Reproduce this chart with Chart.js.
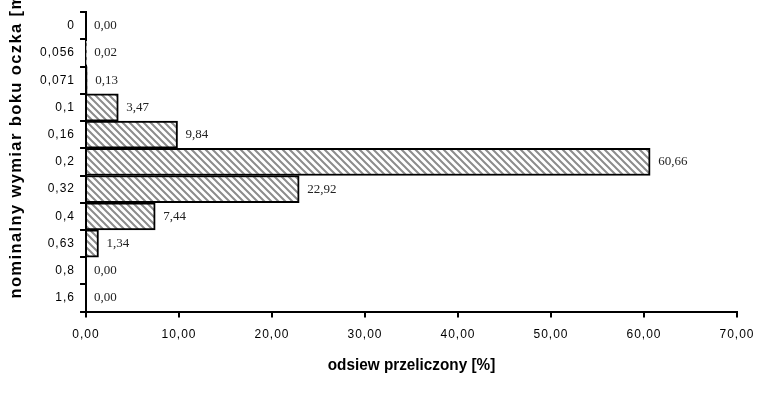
<!DOCTYPE html>
<html><head><meta charset="utf-8">
<script src="https://cdn.jsdelivr.net/npm/chart.js@4/dist/chart.umd.min.js"></script>
<style>html,body{margin:0;padding:0;background:#fff}#wrap{width:769px;height:400px}</style>
</head><body><div id="wrap"><canvas id="c" width="769" height="400"></canvas></div>
<script>
const categories = ['0','0,056','0,071','0,1','0,16','0,2','0,32','0,4','0,63','0,8','1,6'];
const values = [0.00, 0.02, 0.13, 3.47, 9.84, 60.66, 22.92, 7.44, 1.34, 0.00, 0.00];
const xTicks = [0,10,20,30,40,50,60,70];
const xTitle = 'odsiew przeliczony [%]';
const yTitle = 'nominalny wymiar boku oczka [mm]';

function hatch(){
  const s = 7, c = document.createElement('canvas');
  c.width = s; c.height = s;
  const g = c.getContext('2d');
  g.fillStyle = '#fff'; g.fillRect(0,0,s,s);
  g.strokeStyle = '#8c8c8c'; g.lineWidth = 2;
  g.beginPath();
  g.moveTo(-1,-1); g.lineTo(s+1,s+1);
  g.moveTo(-1-s,-1); g.lineTo(1,s+1);
  g.moveTo(s-1,-1); g.lineTo(2*s+1,s+1);
  g.stroke();
  return g.createPattern(c,'repeat');
}
const fmt = v => v.toFixed(2).replace('.', ',');

const spacing = {
  id:'spacing',
  beforeLayout(chart){ chart.ctx.letterSpacing = '1px'; },
  beforeDraw(chart){ chart.ctx.letterSpacing = '1px'; },
  afterDatasetsDraw(chart){
    const ctx = chart.ctx;
    const a = chart.chartArea;
    ctx.save();
    ctx.letterSpacing = '0px';
    const meta = chart.getDatasetMeta(0);
    ctx.font = '13px "Liberation Serif", serif';
    ctx.fillStyle = '#222';
    ctx.textAlign = 'left'; ctx.textBaseline = 'middle';
    meta.data.forEach((bar,i)=>{
      ctx.fillText(fmt(values[i]), bar.x + 8, bar.y);
    });
    ctx.restore();
    // x title
    ctx.save();
    ctx.letterSpacing = '0px';
    ctx.translate((a.left + a.right)/2, a.bottom + 54);
    ctx.scale(0.9, 1);
    ctx.font = 'bold 17px "Liberation Sans", Arial, sans-serif';
    ctx.fillStyle = '#000';
    ctx.textAlign = 'center'; ctx.textBaseline = 'middle';
    ctx.fillText(xTitle, 0, 0);
    ctx.restore();
    // y title
    ctx.save();
    ctx.translate(16, a.bottom - 13);
    ctx.rotate(-Math.PI/2);
    ctx.letterSpacing = '1.4px';
    ctx.font = 'bold 16.5px "Liberation Sans", Arial, sans-serif';
    ctx.fillStyle = '#000';
    ctx.textAlign = 'left'; ctx.textBaseline = 'middle';
    ctx.fillText(yTitle, 0, 0);
    ctx.restore();
  }
};

new Chart(document.getElementById('c'), {
  type:'bar',
  data:{ labels: categories, datasets:[{ data: values, backgroundColor: hatch(), borderColor:'#000', borderWidth:2, borderSkipped:'left', barPercentage:1, categoryPercentage:1 }]},
  options:{
    indexAxis:'y', responsive:false, animation:false,
    layout:{ padding:{ left:35, right:32, top:10, bottom:48 } },
    plugins:{ legend:{display:false}, tooltip:{enabled:false} },
    scales:{
      x:{ min:0, max:70, afterBuildTicks(s){ s.ticks = xTicks.map(v=>({value:v})); },
        grid:{ drawOnChartArea:false, drawTicks:true, tickLength:6, color:'#000', lineWidth:2 },
        border:{ color:'#000', width:2 },
        ticks:{ color:'#000', font:{ family:'"Liberation Sans", Arial, sans-serif', size:12 }, padding:10, maxRotation:0, callback:v=>fmt(v) },
        title:{ display:false }
      },
      y:{ grid:{ offset:true, drawOnChartArea:false, drawTicks:true, tickLength:6, color:'#000', lineWidth:2 },
        border:{ color:'#000', width:2 },
        ticks:{ color:'#000', font:{ family:'"Liberation Sans", Arial, sans-serif', size:12 }, padding:5 }
      }
    }
  },
  plugins:[spacing]
});
</script></body></html>
